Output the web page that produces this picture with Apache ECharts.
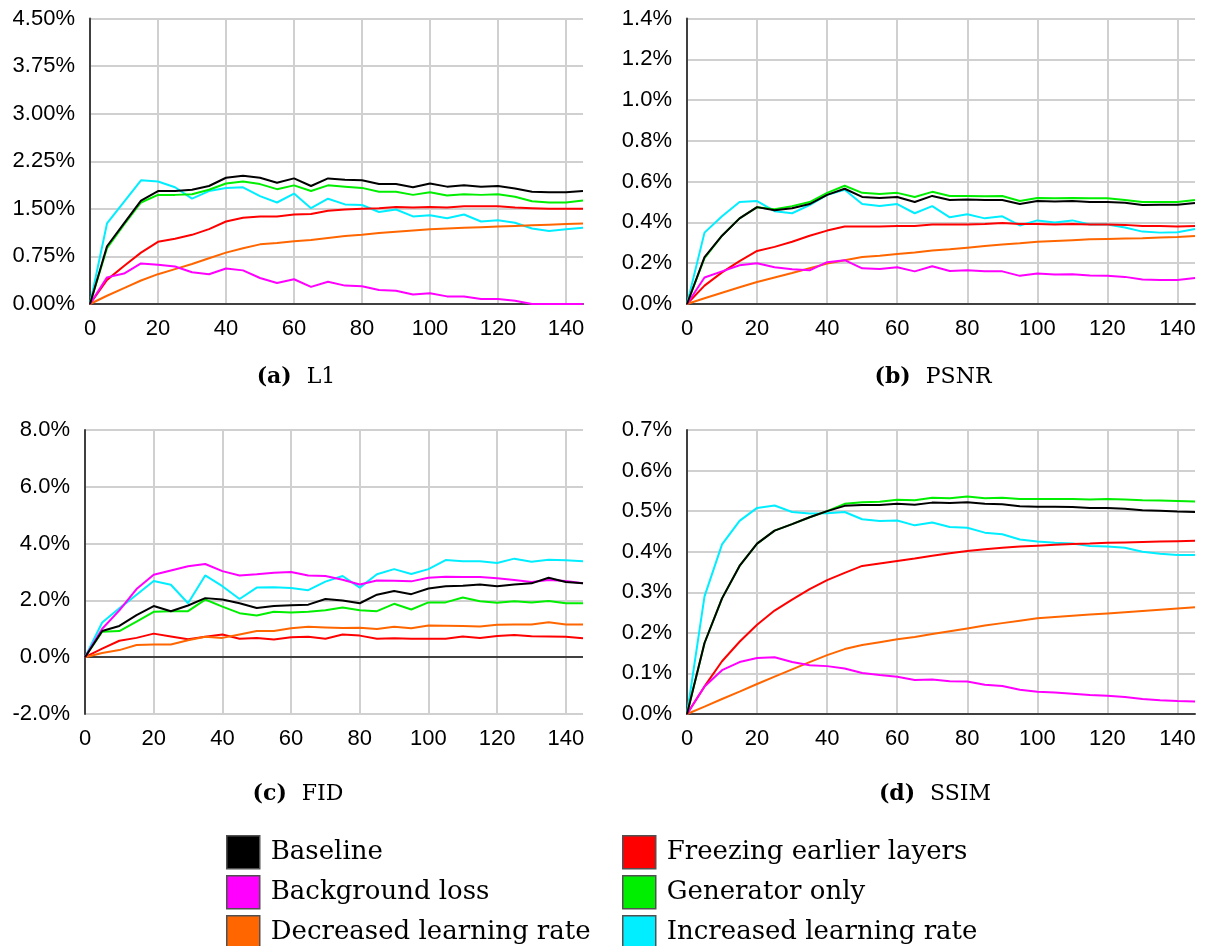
<!DOCTYPE html>
<html>
<head>
<meta charset="utf-8">
<script src="https://cdn.jsdelivr.net/npm/echarts@6/dist/echarts.min.js"></script>
<style>html,body{margin:0;padding:0;background:#fff;}#c{width:1206px;height:946px;}</style>
</head>
<body>
<div id="c"></div>
<script>
// ---- DATA ----
const steps = [0,5,10,15,20,25,30,35,40,45,50,55,60,65,70,75,80,85,90,95,100,105,110,115,120,125,130,135,140,145];
const seriesNames = ['Baseline','Background loss','Decreased learning rate','Freezing earlier layers','Generator only','Increased learning rate'];

// (a) L1 (%)
const l1Baseline   = [0,0.91,1.27,1.63,1.78,1.78,1.80,1.86,1.99,2.02,1.99,1.91,1.98,1.86,1.98,1.96,1.95,1.89,1.89,1.84,1.90,1.85,1.87,1.85,1.86,1.82,1.77,1.76,1.76,1.78];
const l1Background = [0,0.42,0.48,0.64,0.62,0.59,0.50,0.47,0.56,0.53,0.41,0.33,0.39,0.27,0.35,0.29,0.28,0.22,0.21,0.15,0.17,0.12,0.12,0.08,0.08,0.05,0,0,0,0];
const l1Decreased  = [0,0.13,0.25,0.37,0.47,0.55,0.63,0.72,0.81,0.88,0.94,0.96,0.99,1.01,1.04,1.07,1.09,1.12,1.14,1.16,1.18,1.19,1.20,1.21,1.22,1.23,1.24,1.25,1.26,1.27];
const l1Freezing   = [0,0.38,0.60,0.81,0.98,1.03,1.09,1.18,1.30,1.36,1.38,1.38,1.41,1.42,1.47,1.49,1.50,1.51,1.53,1.52,1.53,1.52,1.54,1.54,1.54,1.52,1.51,1.50,1.50,1.50];
const l1Generator  = [0,0.88,1.25,1.60,1.72,1.72,1.73,1.80,1.90,1.93,1.89,1.81,1.87,1.78,1.87,1.85,1.83,1.77,1.77,1.72,1.76,1.71,1.73,1.72,1.73,1.69,1.62,1.60,1.60,1.63];
const l1Increased  = [0,1.27,1.61,1.95,1.93,1.84,1.66,1.78,1.83,1.84,1.70,1.60,1.74,1.51,1.66,1.57,1.56,1.45,1.49,1.38,1.40,1.35,1.41,1.30,1.32,1.28,1.19,1.15,1.18,1.20];

// (b) PSNR (%)
const psnrBaseline   = [0,0.23,0.335,0.42,0.475,0.46,0.47,0.49,0.535,0.565,0.525,0.52,0.525,0.50,0.53,0.51,0.512,0.51,0.51,0.49,0.505,0.503,0.505,0.50,0.50,0.496,0.485,0.487,0.487,0.495];
const psnrBackground = [0,0.13,0.16,0.19,0.20,0.18,0.17,0.165,0.205,0.215,0.175,0.172,0.18,0.16,0.185,0.162,0.165,0.16,0.16,0.138,0.15,0.145,0.146,0.14,0.138,0.133,0.12,0.118,0.118,0.128];
const psnrDecreased  = [0,0.028,0.055,0.082,0.108,0.13,0.152,0.175,0.198,0.215,0.23,0.237,0.245,0.252,0.262,0.268,0.276,0.284,0.292,0.298,0.305,0.309,0.313,0.317,0.319,0.321,0.323,0.326,0.329,0.333];
const psnrFreezing   = [0,0.09,0.155,0.21,0.26,0.28,0.305,0.335,0.36,0.38,0.38,0.38,0.383,0.383,0.39,0.39,0.39,0.392,0.397,0.392,0.392,0.39,0.392,0.39,0.39,0.388,0.382,0.382,0.38,0.382];
const psnrGenerator  = [0,0.225,0.335,0.42,0.475,0.465,0.48,0.50,0.545,0.58,0.545,0.54,0.545,0.525,0.55,0.53,0.53,0.528,0.53,0.505,0.52,0.518,0.52,0.518,0.518,0.51,0.50,0.50,0.50,0.51];
const psnrIncreased  = [0,0.35,0.43,0.50,0.505,0.455,0.445,0.485,0.535,0.56,0.49,0.48,0.49,0.445,0.48,0.425,0.44,0.42,0.43,0.385,0.41,0.40,0.41,0.39,0.39,0.375,0.355,0.35,0.352,0.368];

// (c) FID (%)
const fidBaseline   = [0,0.92,1.10,1.48,1.80,1.62,1.82,2.08,2.03,1.90,1.73,1.80,1.83,1.85,2.05,2.00,1.90,2.20,2.33,2.22,2.42,2.50,2.52,2.56,2.50,2.56,2.60,2.80,2.65,2.60];
const fidBackground = [0,1.00,1.65,2.40,2.90,3.05,3.20,3.28,3.03,2.88,2.92,2.97,3.00,2.88,2.86,2.73,2.56,2.70,2.69,2.67,2.80,2.83,2.82,2.82,2.78,2.72,2.65,2.72,2.68,2.60];
const fidDecreased  = [0,0.15,0.25,0.43,0.45,0.45,0.60,0.72,0.68,0.80,0.92,0.92,1.02,1.07,1.05,1.03,1.04,0.99,1.07,1.02,1.12,1.11,1.10,1.08,1.14,1.15,1.15,1.23,1.15,1.15];
const fidFreezing   = [0,0.30,0.58,0.68,0.83,0.73,0.63,0.72,0.80,0.65,0.68,0.62,0.70,0.72,0.65,0.80,0.76,0.65,0.67,0.65,0.65,0.65,0.73,0.68,0.75,0.78,0.74,0.73,0.72,0.67];
const fidGenerator  = [0,0.90,0.92,1.25,1.60,1.62,1.62,2.03,1.78,1.55,1.47,1.60,1.57,1.60,1.65,1.75,1.65,1.62,1.88,1.68,1.93,1.93,2.10,1.97,1.92,1.97,1.93,1.98,1.90,1.90];
const fidIncreased  = [0,1.22,1.72,2.20,2.68,2.55,1.90,2.88,2.50,2.05,2.45,2.46,2.44,2.36,2.66,2.86,2.45,2.92,3.10,2.93,3.10,3.42,3.38,3.38,3.32,3.47,3.36,3.43,3.41,3.38];

// (d) SSIM (%)
const ssimBaseline   = [0,0.175,0.285,0.365,0.42,0.452,0.468,0.485,0.50,0.513,0.515,0.515,0.518,0.516,0.521,0.52,0.522,0.518,0.517,0.512,0.511,0.511,0.51,0.508,0.508,0.506,0.502,0.501,0.499,0.498];
const ssimBackground = [0,0.068,0.108,0.128,0.138,0.14,0.128,0.12,0.118,0.112,0.101,0.096,0.092,0.084,0.085,0.081,0.08,0.072,0.069,0.06,0.055,0.053,0.05,0.047,0.045,0.042,0.037,0.034,0.032,0.031];
const ssimDecreased  = [0,0.018,0.037,0.055,0.074,0.092,0.11,0.128,0.145,0.16,0.17,0.177,0.184,0.19,0.197,0.204,0.211,0.218,0.224,0.23,0.236,0.239,0.242,0.245,0.248,0.251,0.254,0.257,0.26,0.263];
const ssimFreezing   = [0,0.068,0.13,0.178,0.22,0.255,0.282,0.308,0.33,0.348,0.365,0.371,0.377,0.383,0.39,0.396,0.402,0.406,0.41,0.413,0.415,0.417,0.419,0.42,0.422,0.423,0.424,0.425,0.426,0.427];
const ssimGenerator  = [0,0.175,0.285,0.365,0.42,0.452,0.468,0.485,0.50,0.518,0.522,0.523,0.528,0.527,0.533,0.532,0.536,0.532,0.533,0.53,0.53,0.53,0.53,0.529,0.53,0.529,0.527,0.526,0.525,0.524];
const ssimIncreased  = [0,0.29,0.418,0.476,0.508,0.514,0.498,0.494,0.495,0.498,0.48,0.476,0.477,0.465,0.472,0.461,0.459,0.447,0.443,0.43,0.425,0.422,0.42,0.414,0.413,0.41,0.40,0.395,0.392,0.392];

const captions = [['(a)','L1'],['(b)','PSNR'],['(c)','FID'],['(d)','SSIM']];
const yAxisSpecs = [
  {min:0, max:4.5, interval:0.75, digits:2},
  {min:0, max:1.4, interval:0.2, digits:1},
  {min:-2, max:8, interval:2, digits:1},
  {min:0, max:0.7, interval:0.1, digits:1}
];
const xTicks = {min:0, max:145, interval:20};
// ---- END DATA ----

const colors = ['#000000','#ff00ff','#ff6600','#ff0000','#00ee00','#00eeff'];
const panelData = [
  [l1Baseline,l1Background,l1Decreased,l1Freezing,l1Generator,l1Increased],
  [psnrBaseline,psnrBackground,psnrDecreased,psnrFreezing,psnrGenerator,psnrIncreased],
  [fidBaseline,fidBackground,fidDecreased,fidFreezing,fidGenerator,fidIncreased],
  [ssimBaseline,ssimBackground,ssimDecreased,ssimFreezing,ssimGenerator,ssimIncreased]
];
const grids = [
  {left:90, top:18.5, width:493, height:285.5},
  {left:687, top:18.5, width:508, height:285.5},
  {left:85, top:430, width:498, height:284},
  {left:687, top:430, width:508, height:284}
];
const captionPos = [[296,377],[933,377],[298,794],[935,794]];
const tickFont = {fontFamily:'Liberation Sans, Arial, sans-serif', fontSize:22, color:'#000'};
const serif = 'DejaVu Serif, serif';

const option = {
  animation:false,
  backgroundColor:'#fff',
  color: colors,
  grid: grids.map(g => Object.assign({containLabel:false}, g)),
  xAxis: grids.map((g,i) => ({
    type:'value', gridIndex:i, min:xTicks.min, max:xTicks.max, interval:xTicks.interval,
    axisLine:{show:i!==2, onZero:false, lineStyle:{color:'#404040', width:2}},
    axisTick:{show:false},
    axisLabel:Object.assign({margin:14, showMaxLabel:false}, tickFont),
    splitLine:{show:true, showMinLine:false, showMaxLine:false, lineStyle:{color:'#d0d0d0', width:2}}
  })),
  yAxis: yAxisSpecs.map((s,i) => ({
    type:'value', gridIndex:i, min:s.min, max:s.max, interval:s.interval,
    axisLine:{show:true, lineStyle:{color:'#404040', width:2}},
    axisTick:{show:false},
    axisLabel:Object.assign({margin:15, formatter:v => v.toFixed(s.digits)+'%'}, tickFont),
    splitLine:{show:true, showMinLine:i===2, lineStyle:{color:'#d0d0d0', width:2}}
  })),
  legend: [
    {data:seriesNames.slice(0,3), left:226, top:835},
    {data:seriesNames.slice(3,6), left:622, top:835}
  ].map(l => Object.assign({
    orient:'vertical', icon:'rect', itemWidth:33, itemHeight:33, itemGap:5.5,
    padding:0, height:140,
    selectedMode:false,
    itemStyle:{borderColor:'#505050', borderWidth:1.5},
    textStyle:{fontFamily:serif, fontSize:26, color:'#000', padding:[0,0,0,6]}
  }, l)),
  graphic: captions.map((c,i) => ({
    type:'text', x:captionPos[i][0], y:captionPos[i][1],
    style:{
      text:'{b|'+c[0]+'}{n|'+c[1]+'}',
      align:'center', verticalAlign:'middle',
      rich:{
        b:{fontFamily:serif, fontSize:22, fontWeight:'bold', fill:'#000'},
        n:{fontFamily:serif, fontSize:22, fill:'#000', padding:[0,0,0,15]}
      }
    }
  })),
  series: []
};

panelData.forEach((arrs, p) => {
  arrs.forEach((vals, k) => {
    const s = {
      name: seriesNames[k], type:'line', xAxisIndex:p, yAxisIndex:p,
      symbol:'none', clip:true,
      lineStyle:{width:2, color:colors[k]},
      itemStyle:{color:colors[k]},
      data: steps.map((x, j) => [x, vals[j]]),
      z: 3 + (6-k)
    };
    if (p === 2 && k === 0) {
      s.markLine = {silent:true, symbol:'none', label:{show:false},
        lineStyle:{color:'#404040', width:2, type:'solid'}, data:[{yAxis:0}]};
    }
    option.series.push(s);
  });
});

const chart = echarts.init(document.getElementById('c'), null, {renderer:'canvas'});
chart.setOption(option);
</script>
</body>
</html>
